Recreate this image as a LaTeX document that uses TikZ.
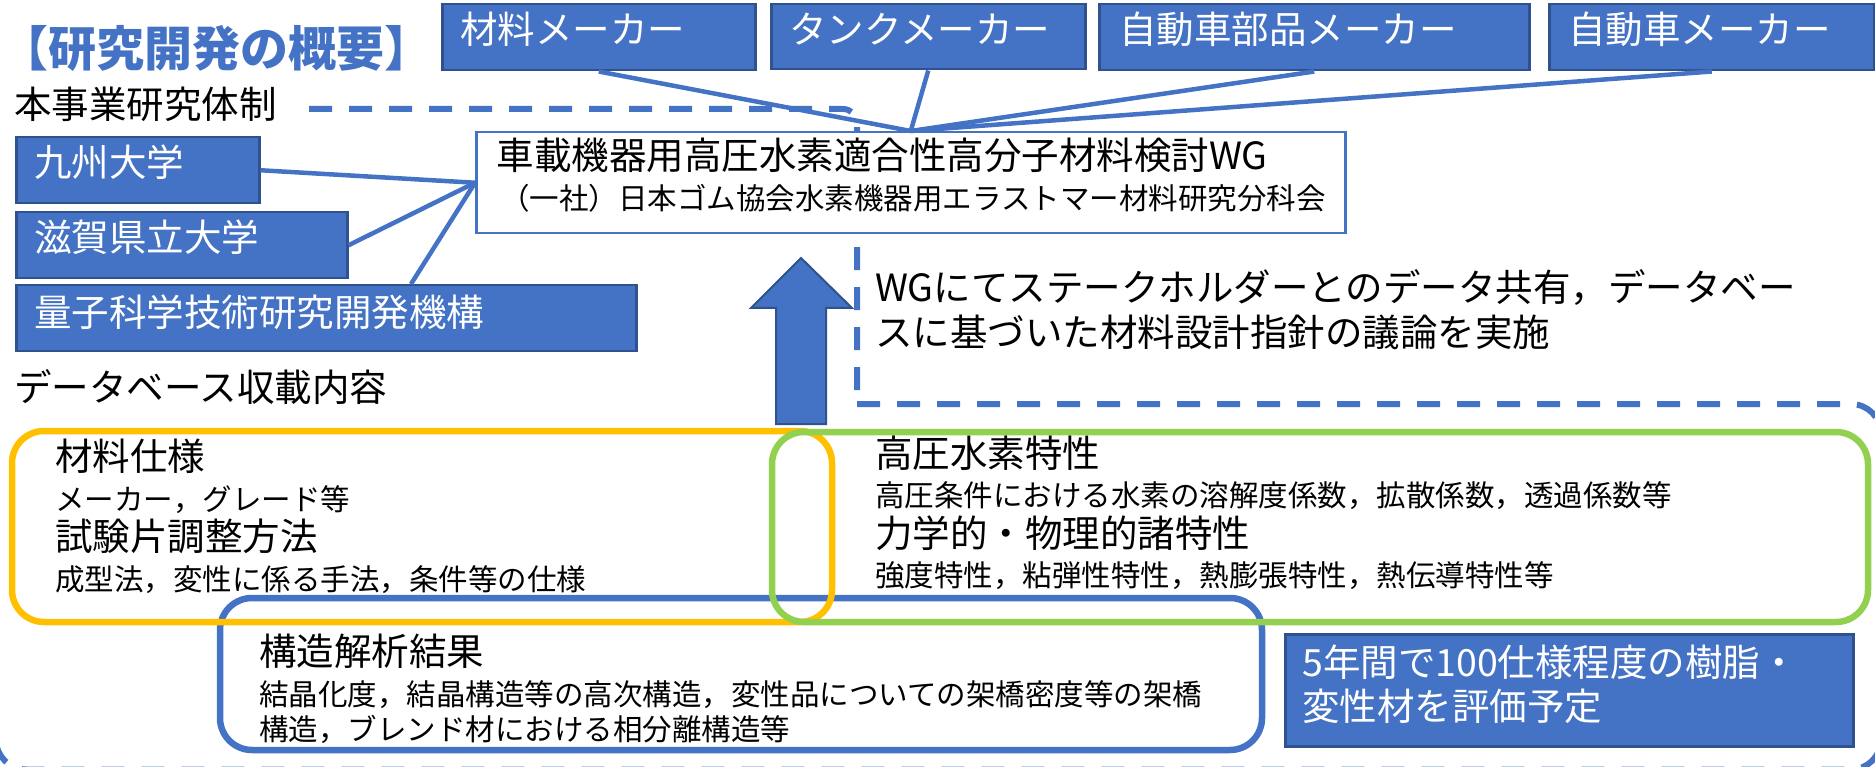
\documentclass[tikz,border=0pt]{standalone}
\usepackage{fontspec}
\setmainfont{Noto Sans CJK JP}
\definecolor{mblue}{HTML}{4472C4}
\definecolor{dblue}{HTML}{2F528F}
\definecolor{morange}{HTML}{FFC000}
\definecolor{mgreen}{HTML}{92D050}
\begin{document}
\begin{tikzpicture}[x=1pt,y=-1pt,
  fillbox/.style={draw=dblue, line width=2.5, fill=mblue, inner sep=0, anchor=north west},
  big/.style={font=\fontsize{37.5}{40}\selectfont, inner sep=0, anchor=base west},
  small/.style={font=\fontsize{29.5}{32}\selectfont, inner sep=0, anchor=base west},
  wtext/.style={text=white},
  conn/.style={draw=mblue, line width=4.5},
  dashline/.style={draw=mblue, line width=6, dash pattern=on 23 off 17},
  roundbox/.style={line width=6.5, rounded corners=32}]
\useasboundingbox (0,0) rectangle (1875,767);
\clip (0,0) rectangle (1875,767);
% big dashed frame
\draw[dashline, rounded corners=14] (309,109) -| (857,404);
\draw[dashline, rounded corners=30] (857,404) -- (1881,404) -- (1881,769.5) -- (-4,769.5) -- (-4,109);
% title
\node[font=\fontsize{48}{52}\selectfont\bfseries, text=mblue, inner sep=0, anchor=base] (title) at (217,67) {【研究開発の概要】};
\node[big] (taisei) at (14,119) {本事業研究体制};
% top boxes
\node[fillbox, minimum width=313, minimum height=66] (m1) at (441,3) {};
\node[fillbox, minimum width=314, minimum height=65] (m2) at (770,3) {};
\node[fillbox, minimum width=430, minimum height=66] (m3) at (1098,3) {};
\node[fillbox, minimum width=325, minimum height=66] (m4) at (1548,3) {};
\node[big, wtext] (l1) at (460,44) {材料メーカー};
\node[big, wtext] (l2) at (789,44) {タンクメーカー};
\node[big, wtext] (l3) at (1119,44) {自動車部品メーカー};
\node[big, wtext] (l4) at (1568,44) {自動車メーカー};
% WG box
\node[draw=mblue, line width=2.5, fill=white, inner sep=0, anchor=north west, minimum width=869, minimum height=101] (wg) at (475,131) {};
\node[big, anchor=base] (wg1) at (882,170) {車載機器用高圧水素適合性高分子材料検討WG};
\node[small, anchor=base] (wg2) at (913,210) {（一社）日本ゴム協会水素機器用エラストマー材料研究分科会};
% left boxes
\node[fillbox, minimum width=243, minimum height=66] (k1) at (15,136) {};
\node[fillbox, minimum width=331, minimum height=66] (k2) at (15,211) {};
\node[fillbox, minimum width=620, minimum height=66] (k3) at (15,284) {};
\node[big, wtext] (k1l) at (34,177) {九州大学};
\node[big, wtext] (k2l) at (34,252) {滋賀県立大学};
\node[big, wtext] (k3l) at (34,327) {量子科学技術研究開発機構};
% connectors
\draw[conn] (m1.south) -- (wg.north);
\draw[conn] (m2.south) -- (wg.north);
\draw[conn] (m3.south) -- (wg.north);
\draw[conn] (m4.south) -- (wg.north);
\draw[conn] (k1.east) -- (wg.west);
\draw[conn] (k2.east) -- (wg.west);
\draw[conn] ([xshift=396pt]k3.north west) -- (wg.west);
% arrow
\draw[fill=mblue, draw=dblue, line width=2] (801,258) -- (852,308) -- (826,308) -- (826,424) -- (776,424) -- (776,308) -- (751,308) -- cycle;
\node[big] (share1) at (875,302) {WGにてステークホルダーとのデータ共有，データベー};
\node[big] (share2) at (875,347) {スに基づいた材料設計指針の議論を実施};
\node[big] (dbtitle) at (14,402) {データベース収載内容};
% rounded frames
\draw[roundbox, draw=mblue] (220,598) rectangle (1262,750);
\draw[roundbox, draw=morange] (12,431) rectangle (832,622);
\draw[roundbox, draw=mgreen] (772,432) rectangle (1868,622);
% orange content
\node[big] (o1) at (55,470) {材料仕様};
\node[small] (o2) at (55,510) {メーカー，グレード等};
\node[big] (o3) at (55,550) {試験片調整方法};
\node[small] (o4) at (55,590) {成型法，変性に係る手法，条件等の仕様};
% green content
\node[big] (g1) at (875,467) {高圧水素特性};
\node[small] (g2) at (875,506) {高圧条件における水素の溶解度係数，拡散係数，透過係数等};
\node[big] (g3) at (875,547) {力学的・物理的諸特性};
\node[small] (g4) at (875,586) {強度特性，粘弾性特性，熱膨張特性，熱伝導特性等};
% blue content
\node[big] (b1) at (259,665) {構造解析結果};
\node[small] (b2) at (259,705) {結晶化度，結晶構造等の高次構造，変性品についての架橋密度等の架橋};
\node[small] (b3) at (259,740) {構造，ブレンド材における相分離構造等};
% plan box
\node[fillbox, draw=dblue, line width=3, minimum width=568, minimum height=112] (plan) at (1284,633) {};
\node[big, wtext] (p1) at (1302,676) {5年間で100仕様程度の樹脂・};
\node[big, wtext] (p2) at (1302,720) {変性材を評価予定};
\end{tikzpicture}
\end{document}
